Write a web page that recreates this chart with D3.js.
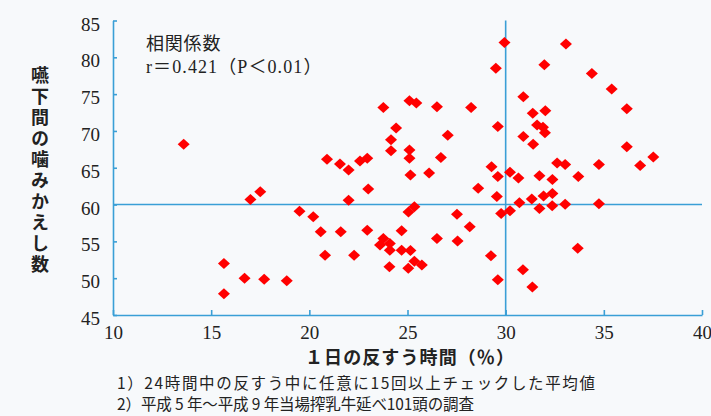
<!DOCTYPE html>
<html>
<head>
<meta charset="utf-8">
<script src="https://cdn.jsdelivr.net/npm/d3@7"></script>
<style>
  html, body { margin: 0; padding: 0; background: #f7f9fb; }
  svg { display: block; }
</style>
</head>
<body>
<svg id="chart" width="711" height="416"></svg>
<script>
// Rumination time (% of day) vs. chews per bolus
const rumination = [
  13.6, 15.65, 15.65, 16.7, 17.7, 18.85, 17.0, 17.5, 19.5, 20.2,
  20.58, 21.6, 20.8, 22.28, 22.95, 23.0, 22.0, 20.9, 21.56, 22.0,
  22.58, 22.95, 23.77, 24.42, 24.16, 24.16, 25.1, 25.45, 25.1, 25.1,
  25.15, 25.05, 25.35, 23.77, 23.6, 24.1, 24.1, 24.7, 24.7, 25.15,
  24.08, 25.04, 25.35, 25.73, 26.1, 26.7, 27.05, 26.5, 28.24, 26.5,
  27.55, 27.52, 28.17, 28.6, 29.55, 29.28, 29.6, 29.6, 29.5, 29.94,
  29.77, 30.22, 29.25, 29.6, 30.22, 30.65, 30.9, 30.9, 31.4, 31.38,
  32.02, 31.6, 31.9, 32.0, 31.97, 33.07, 34.39, 35.4, 36.17, 36.17,
  37.52, 36.85, 34.75, 32.62, 33.03, 31.72, 32.38, 33.7, 30.7, 31.33,
  31.93, 32.38, 31.72, 32.37, 33.03, 34.75, 30.88, 31.36, 33.67
];
const chews = [
  68.2, 52.0, 47.9, 50.0, 49.85, 49.65, 60.7, 61.75, 59.1, 58.35,
  56.3, 56.3, 53.1, 53.1, 56.5, 62.1, 60.6, 66.15, 65.5, 64.7,
  65.9, 66.3, 73.2, 70.4, 68.8, 67.3, 74.1, 73.8, 67.4, 66.3,
  64.0, 59.0, 59.7, 55.4, 54.5, 54.7, 53.8, 56.45, 53.8, 53.75,
  51.55, 51.35, 52.3, 51.8, 64.3, 66.4, 69.4, 73.3, 73.2, 55.4,
  55.05, 58.7, 57.0, 62.2, 61.1, 65.15, 63.8, 70.6, 78.5, 82.0,
  58.8, 59.15, 53.06, 49.8, 64.4, 63.6, 74.65, 69.25, 68.2, 72.4,
  72.75, 70.8, 70.5, 69.75, 79.0, 81.8, 77.8, 75.7, 73.0, 67.85,
  66.45, 65.3, 65.45, 65.65, 65.45, 63.9, 63.4, 63.8, 60.25, 60.75,
  61.15, 61.5, 59.45, 59.85, 60.05, 60.1, 51.15, 48.8, 54.05
];

const xTicks = [10, 15, 20, 25, 30, 35, 40];
const yTicks = [45, 50, 55, 60, 65, 70, 75, 80, 85];
const refX = 30;
const refY = 60;

const xTitle = "１日の反すう時間（％）";
const yTitle = "嚥下間の噛みかえし数";
const statLines = ["相関係数", "r＝0.421（P＜0.01）"];
const notes = [
  "1）24時間中の反すう中に任意に15回以上チェックした平均値",
  "2）平成 5 年～平成 9 年当場搾乳牛延べ101頭の調査"
];
const noteWidths = [478, 357];

const blue = "#3a9fd6";
const red = "#ff0000";
const serif = "'Liberation Serif', 'Noto Sans CJK JP', serif";
const gothic = "'Noto Sans CJK JP', sans-serif";

const svg = d3.select("#chart");

const x = d3.scaleLinear().domain([10, 40]).range([113, 702]);
const y = d3.scaleLinear().domain([45, 85]).range([315, 20.5]);

// axes with inward ticks
const gx = svg.append("g")
  .attr("transform", `translate(0,${y(45)})`)
  .call(d3.axisBottom(x).tickValues(xTicks).tickSize(-5).tickSizeOuter(0).tickPadding(11));
const gy = svg.append("g")
  .attr("transform", `translate(${x(10)},0)`)
  .call(d3.axisLeft(y).tickValues(yTicks).tickSize(-4).tickSizeOuter(0).tickPadding(13));

[gx, gy].forEach(g => {
  g.selectAll("path, line").attr("stroke", blue).attr("stroke-width", 1.6);
  g.selectAll("text")
    .attr("fill", "#222")
    .style("font-family", serif)
    .style("font-size", "19px");
});
gy.selectAll("text").attr("dy", "0.5em");

// reference lines
svg.append("line")
  .attr("x1", x(refX)).attr("x2", x(refX))
  .attr("y1", y(85)).attr("y2", y(45))
  .attr("stroke", blue).attr("stroke-width", 1.6);
svg.append("line")
  .attr("x1", x(10)).attr("x2", x(40))
  .attr("y1", y(refY)).attr("y2", y(refY))
  .attr("stroke", blue).attr("stroke-width", 1.6);

// diamond markers
const pts = d3.zip(rumination, chews);
svg.append("g").selectAll("path")
  .data(pts)
  .join("path")
  .attr("transform", d => `translate(${x(d[0])},${y(d[1])})`)
  .attr("d", "M0,-5.5L6,0L0,5.5L-6,0Z")
  .attr("fill", red);

// correlation note
svg.append("text")
  .attr("x", 146).attr("y", 50)
  .style("font-family", gothic).style("font-size", "18px")
  .style("letter-spacing", "0.8px")
  .attr("fill", "#222")
  .text(statLines[0]);
svg.append("text")
  .attr("x", 146).attr("y", 73)
  .style("font-family", serif).style("font-size", "18px")
  .style("letter-spacing", "1.1px")
  .attr("fill", "#222")
  .text(statLines[1]);

// y title, written vertically
svg.append("text")
  .attr("x", 40).attr("y", 66)
  .style("writing-mode", "vertical-rl")
  .style("text-orientation", "upright")
  .style("font-family", gothic).style("font-size", "18px")
  .style("font-weight", 700)
  .style("letter-spacing", "3px")
  .attr("fill", "#222")
  .text(yTitle);

// x title
svg.append("text")
  .attr("x", 410).attr("y", 364)
  .attr("text-anchor", "middle")
  .style("font-family", gothic).style("font-size", "18px")
  .style("font-weight", 700)
  .style("letter-spacing", "1.1px")
  .attr("fill", "#222")
  .text(xTitle);

// footnotes
svg.selectAll("text.note")
  .data(notes)
  .join("text")
  .attr("class", "note")
  .attr("x", 117)
  .attr("y", (d, i) => 389 + i * 21)
  .attr("textLength", (d, i) => noteWidths[i])
  .attr("lengthAdjust", "spacing")
  .style("font-family", gothic).style("font-size", "15.5px")
  .attr("fill", "#222")
  .text(d => d);
</script>
</body>
</html>
